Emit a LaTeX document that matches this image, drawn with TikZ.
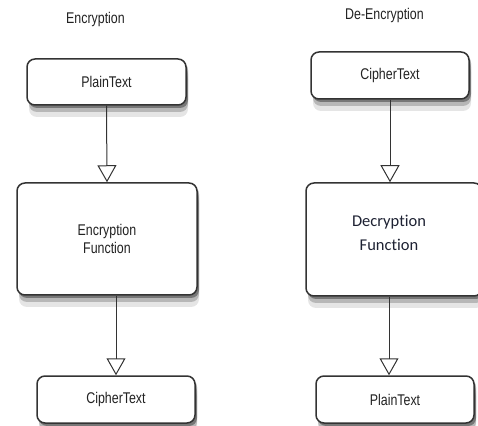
\documentclass[tikz,border=0pt]{standalone}
\usepackage{fontspec}
\usetikzlibrary{arrows.meta,shadows}
\newfontfamily\boxfont{Liberation Sans}[FakeStretch=0.8]
\newfontfamily\callfont{Carlito}[Ligatures=NoCommon]
\definecolor{boxline}{HTML}{333333}
\definecolor{txtgray}{HTML}{222222}
\definecolor{calltxt}{HTML}{1E2233}
\begin{document}
\begin{tikzpicture}[x=1pt, y=1pt,
    box/.style={draw=boxline, line width=1.5pt, rounded corners=8pt, fill=white,
      general shadow={shadow xshift=2pt, shadow yshift=-3pt, fill=black, opacity=.35},
      general shadow={shadow xshift=2pt, shadow yshift=-7pt, fill=black, opacity=.2},
      general shadow={shadow xshift=2pt, shadow yshift=-12pt, fill=black, opacity=.1},
      inner sep=0pt, font=\boxfont\fontsize{15.5}{18}\selectfont, text=txtgray, align=center},
    title/.style={font=\boxfont\fontsize{15.5}{18}\selectfont, text=txtgray},
    flow/.style={draw=boxline, line width=1pt, -{Triangle[open, length=17pt, width=19pt, line width=1pt]}}]
    \useasboundingbox (0,0) rectangle (478,425);
    
    % Encryption side
    \node[title] (encTitle) at (95.5,405) {Encryption};
    \node[box, minimum width=159pt, minimum height=46pt] (encPlain) at (106.5,343) {PlainText};
    \node[box, minimum width=180pt, minimum height=112pt] (encFunc) at (107,186) {Encryption\\Function};
    \node[box, minimum width=158pt, minimum height=47pt] (encCipher) at (116,25.5) {CipherText};
    
    \draw[flow] (encPlain.south) -- (encFunc.north);
    \draw[flow] (encCipher.north |- encFunc.south) -- (encCipher.north);
    
    % De-Encryption side
    \node[title] (decTitle) at (384.5,410) {De-Encryption};
    \node[box, minimum width=158pt, minimum height=47pt] (decCipher) at (390,349.5) {CipherText};
    \node[box, minimum width=176pt, minimum height=113pt] (decFunc) at (394,185.5) {};
    \node[font=\callfont\fontsize{16.5}{24}\selectfont, text=calltxt, align=center] (decFuncText) at (389,192) {Decryption\\Function};
    \node[box, minimum width=158pt, minimum height=47pt] (decPlain) at (395,25.5) {PlainText};
    
    \draw[flow] (decCipher.south) -- (decCipher.south |- decFunc.north);
    \draw[flow] ([xshift=-6pt]decPlain.north |- decFunc.south) -- ([xshift=-6pt]decPlain.north);
\end{tikzpicture}
\end{document}
